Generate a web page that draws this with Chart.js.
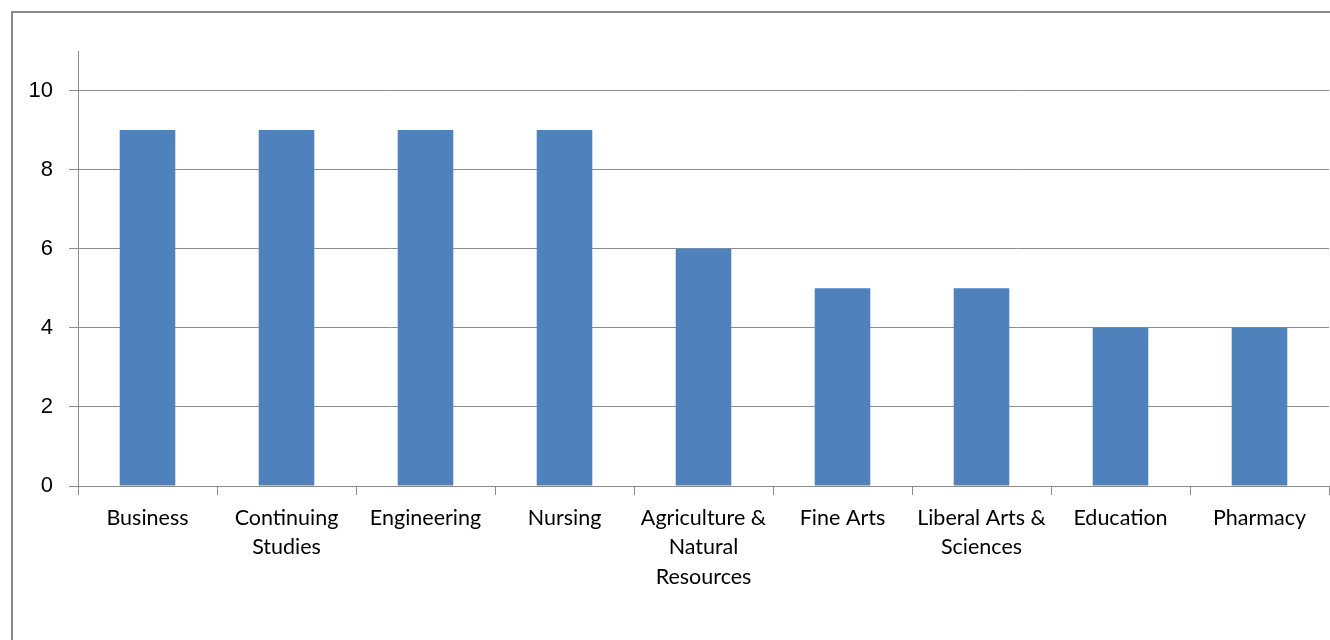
<!DOCTYPE html>
<html>
<head>
<meta charset="utf-8">
<script src="https://cdn.jsdelivr.net/npm/chart.js@4/dist/chart.umd.min.js"></script>
<style>
  html, body { margin: 0; padding: 0; background: #fff; }
  #wrap { position: relative; width: 1330px; height: 640px; overflow: hidden; }
  /* outer frame of the chart box, cut off on the right and bottom */
  #frame {
    position: absolute; left: 11px; top: 11px; width: 1400px; height: 700px;
    border-left: 2px solid #8a8a8a; border-top: 2px solid #8a8a8a;
  }
  #chart { position: absolute; left: 0; top: 0; }
</style>
</head>
<body>
<div id="wrap">
  <div id="frame"></div>
  <canvas id="chart" width="1330" height="640"></canvas>
</div>
<script>
// Colleges and counts
const colleges = [
    'Business',
    ['Continuing', 'Studies'],
    'Engineering',
    'Nursing',
    ['Agriculture &', 'Natural', 'Resources'],
    'Fine Arts',
    ['Liberal Arts &', 'Sciences'],
    'Education',
    'Pharmacy'
];
const counts = [9, 9, 9, 9, 6, 5, 5, 4, 4];
const yTicks = [0, 2, 4, 6, 8, 10];

const axisGray = '#8c8c8c';

const ctx = document.getElementById('chart').getContext('2d');
const chart = new Chart(ctx, {
    type: 'bar',
    data: {
        labels: colleges,
        datasets: [{
            data: counts,
            backgroundColor: '#4f81bd',
            borderWidth: 0,
            barPercentage: 0.4,
            categoryPercentage: 1
        }]
    },
    options: {
        responsive: false,
        animation: false,
        layout: {
            padding: { left: 0, top: 51, right: 1, bottom: 0 }
        },
        plugins: {
            legend: { display: false },
            tooltip: { enabled: false }
        },
        scales: {
            x: {
                offset: true,
                grid: {
                    offset: true,
                    drawOnChartArea: false,
                    drawTicks: true,
                    tickLength: 9,
                    color: axisGray
                },
                border: { color: axisGray, width: 1 },
                ticks: {
                    autoSkip: false,
                    maxRotation: 0,
                    padding: 8,
                    color: '#000',
                    font: { family: 'Lato', size: 21.5, lineHeight: 1.37 }
                },
                afterFit: function(scale) {
                    scale.height = 154;
                }
            },
            y: {
                min: 0,
                max: 11,
                afterBuildTicks: function(scale) {
                    scale.ticks = yTicks.map(v => ({ value: v }));
                },
                grid: {
                    color: axisGray,
                    tickLength: 9
                },
                border: { color: axisGray, width: 1 },
                ticks: {
                    padding: 16,
                    color: '#000',
                    font: { family: 'Liberation Sans', size: 22 }
                },
                afterFit: function(scale) {
                    scale.width = 78;
                }
            }
        }
    }
});
</script>
</body>
</html>
